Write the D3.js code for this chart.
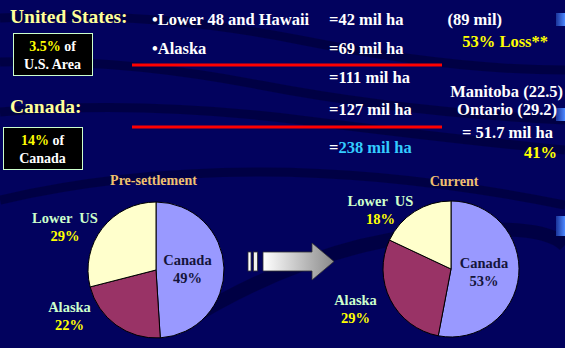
<!DOCTYPE html>
<html>
<head>
<meta charset="utf-8">
<script src="https://cdn.jsdelivr.net/npm/d3@7"></script>
<style>
  html, body { margin: 0; padding: 0; background: #02025e; }
  svg { display: block; }
  text { font-family: "Liberation Serif", "Times New Roman", serif; font-weight: bold; }
</style>
</head>
<body>
<div id="chart"></div>
<script>
const WIDTH = 565;
const HEIGHT = 348;

// pie data
const regions = ['Canada', 'Alaska', 'Lower  US'];
const preShares = [49, 22, 29];
const curShares = [53, 29, 18];
const pieTitles = ['Pre-settlement', 'Current'];

// text table
const usRows = ['•Lower 48 and Hawaii', '•Alaska'];
const areaNumbers = ['42', '69', '111', '127', '238'];
const sideNotes = ['(89 mil)', 'Manitoba (22.5)', 'Ontario (29.2)', '= 51.7 mil ha'];
const lossPercents = ['53% Loss**', '41%'];

const COLORS = {
  bg: '#02025e',
  title: '#ffff99',
  white: '#ffffff',
  yellow: '#ffff00',
  cyan: '#33ccff',
  red: '#ff0000',
  tan: '#f0c070',
  mint: '#ccffcc',
  dark: '#14143a',
  slices: ['#9999ff', '#993366', '#ffffcc'],
};

const svg = d3.select('#chart')
  .append('svg')
    .attr('width', WIDTH)
    .attr('height', HEIGHT);

const defs = svg.append('defs');

const arrowGrad = defs.append('linearGradient')
    .attr('id', 'arrowGrad')
    .attr('x1', '0%').attr('x2', '100%');
arrowGrad.append('stop').attr('offset', '0%').attr('stop-color', '#ffffff');
arrowGrad.append('stop').attr('offset', '100%').attr('stop-color', '#8a8a8a');

const tabGrad = defs.append('linearGradient')
    .attr('id', 'tabGrad')
    .attr('x1', '0%').attr('x2', '100%');
tabGrad.append('stop').attr('offset', '0%').attr('stop-color', '#1a3399');
tabGrad.append('stop').attr('offset', '100%').attr('stop-color', '#4d88ff');

// background
svg.append('rect')
    .attr('width', WIDTH)
    .attr('height', HEIGHT)
    .attr('fill', COLORS.bg);

// dark swooshes
const swooshes = [
  'M0,18 Q150,10 300,40 T565,70',
  'M0,62 Q120,58 260,85 T565,120',
  'M0,112 Q140,100 300,120 T565,150',
  'M0,200 Q120,172 260,172 T565,205',
  'M180,325 Q300,250 420,235 T565,245',
];
svg.append('g')
  .selectAll('path')
  .data(swooshes)
  .enter()
  .append('path')
    .attr('d', d => d)
    .attr('fill', 'none')
    .attr('stroke', '#000030')
    .attr('stroke-width', (d, i) => i === 4 ? 14 : 9)
    .attr('opacity', 0.55);

// right edge tabs
svg.append('g')
  .selectAll('rect')
  .data([13, 108, 216])
  .enter()
  .append('rect')
    .attr('x', 556)
    .attr('y', d => d)
    .attr('width', 9)
    .attr('height', (d, i) => i === 2 ? 20 : 13)
    .attr('fill', 'url(#tabGrad)');

// headings
const heading = svg.append('g').attr('font-size', 19.5).attr('fill', COLORS.title);
heading.append('text').attr('x', 10).attr('y', 23).text('United States:');
heading.append('text').attr('x', 10).attr('y', 113).text('Canada:');

// boxes
function box(x, y, w, h, pct, line2) {
  const g = svg.append('g');
  g.append('rect')
      .attr('x', x + 0.5).attr('y', y + 0.5)
      .attr('width', w).attr('height', h)
      .attr('fill', '#000000')
      .attr('stroke', COLORS.mint)
      .attr('stroke-width', 1);
  const t = g.append('text')
      .attr('x', x + w / 2)
      .attr('y', y + 18)
      .attr('text-anchor', 'middle')
      .attr('font-size', 14);
  t.append('tspan').attr('fill', COLORS.yellow).text(pct);
  t.append('tspan').attr('fill', COLORS.white).text(' of');
  g.append('text')
      .attr('x', x + w / 2)
      .attr('y', y + 36)
      .attr('text-anchor', 'middle')
      .attr('font-size', 14)
      .attr('fill', COLORS.white)
      .text(line2);
}
box(13, 33, 79, 42, '3.5%', 'U.S. Area');
box(3, 127, 79, 42, '14%', 'Canada');

// rows of text
const body = svg.append('g').attr('font-size', 16.5).attr('fill', COLORS.white);
const rowY = [25, 54, 83, 115, 153];

body.selectAll('.us-row')
  .data(usRows)
  .enter()
  .append('text')
    .attr('class', 'us-row')
    .attr('x', 152)
    .attr('y', (d, i) => rowY[i])
    .text(d => d);

body.selectAll('.area')
  .data(areaNumbers)
  .enter()
  .append('text')
    .attr('class', 'area')
    .attr('x', 329)
    .attr('y', (d, i) => rowY[i])
    .each(function (d, i) {
      const t = d3.select(this);
      t.append('tspan').text('=');
      t.append('tspan')
          .attr('fill', i === areaNumbers.length - 1 ? COLORS.cyan : COLORS.white)
          .text(d + ' mil ha');
    });

// red rules
svg.append('g')
  .selectAll('line')
  .data([65, 127])
  .enter()
  .append('line')
    .attr('x1', 132).attr('x2', 442)
    .attr('y1', d => d).attr('y2', d => d)
    .attr('stroke', COLORS.red)
    .attr('stroke-width', 3);

// side notes (right aligned)
const notePos = [[502, 25], [563, 97], [557, 115], [553, 138]];
body.selectAll('.note')
  .data(sideNotes)
  .enter()
  .append('text')
    .attr('class', 'note')
    .attr('x', (d, i) => notePos[i][0])
    .attr('y', (d, i) => notePos[i][1])
    .attr('text-anchor', 'end')
    .text(d => d);

const lossPos = [[548, 47], [557, 158]];
body.selectAll('.loss')
  .data(lossPercents)
  .enter()
  .append('text')
    .attr('class', 'loss')
    .attr('x', (d, i) => lossPos[i][0])
    .attr('y', (d, i) => lossPos[i][1])
    .attr('text-anchor', 'end')
    .attr('fill', COLORS.yellow)
    .text(d => d);

// pies
const R = 68;
const pie = d3.pie().sort(null).value(d => d);
const arc = d3.arc().innerRadius(0).outerRadius(R);

const pies = [
  { cx: 156, cy: 270, shares: preShares, titleX: 153.5, titleY: 185,
    labels: [[31.5, -5], [-86.5, 42], [-91, -47]] },
  { cx: 451, cy: 269, shares: curShares, titleX: 454, titleY: 186,
    labels: [[33, -1], [-95.5, 36], [-70.5, -63]] },
];

pies.forEach((p, k) => {
  const g = svg.append('g').attr('transform', `translate(${p.cx},${p.cy})`);

  g.selectAll('path')
    .data(pie(p.shares))
    .enter()
    .append('path')
      .attr('d', arc)
      .attr('fill', (d, i) => COLORS.slices[i])
      .attr('stroke', '#000000')
      .attr('stroke-width', 1);

  const lab = g.selectAll('.lab')
    .data(p.shares)
    .enter()
    .append('g')
      .attr('class', 'lab')
      .attr('transform', (d, i) => `translate(${p.labels[i][0]},${p.labels[i][1]})`)
      .attr('font-size', 14.5)
      .attr('text-anchor', 'middle');

  lab.append('text')
      .attr('fill', (d, i) => i === 0 ? COLORS.dark : COLORS.mint)
      .attr('xml:space', 'preserve')
      .style('white-space', 'pre')
      .text((d, i) => regions[i]);

  lab.append('text')
      .attr('y', 17.5)
      .attr('fill', (d, i) => i === 0 ? COLORS.dark : COLORS.yellow)
      .text(d => d + '%');

  svg.append('text')
      .attr('x', p.titleX)
      .attr('y', p.titleY)
      .attr('text-anchor', 'middle')
      .attr('font-size', 14)
      .attr('fill', COLORS.tan)
      .text(pieTitles[k]);
});

// arrow between the pies
const arrow = svg.append('g').attr('stroke', '#333333').attr('stroke-width', 0.8);
arrow.append('rect').attr('x', 248).attr('y', 252).attr('width', 3).attr('height', 19).attr('fill', '#ffffff');
arrow.append('rect').attr('x', 253.5).attr('y', 252).attr('width', 4).attr('height', 19).attr('fill', '#f0f0f0');
arrow.append('path')
    .attr('d', 'M263,252 L312,252 L312,243 L334,261.5 L312,280 L312,271 L263,271 Z')
    .attr('fill', 'url(#arrowGrad)');
</script>
</body>
</html>
